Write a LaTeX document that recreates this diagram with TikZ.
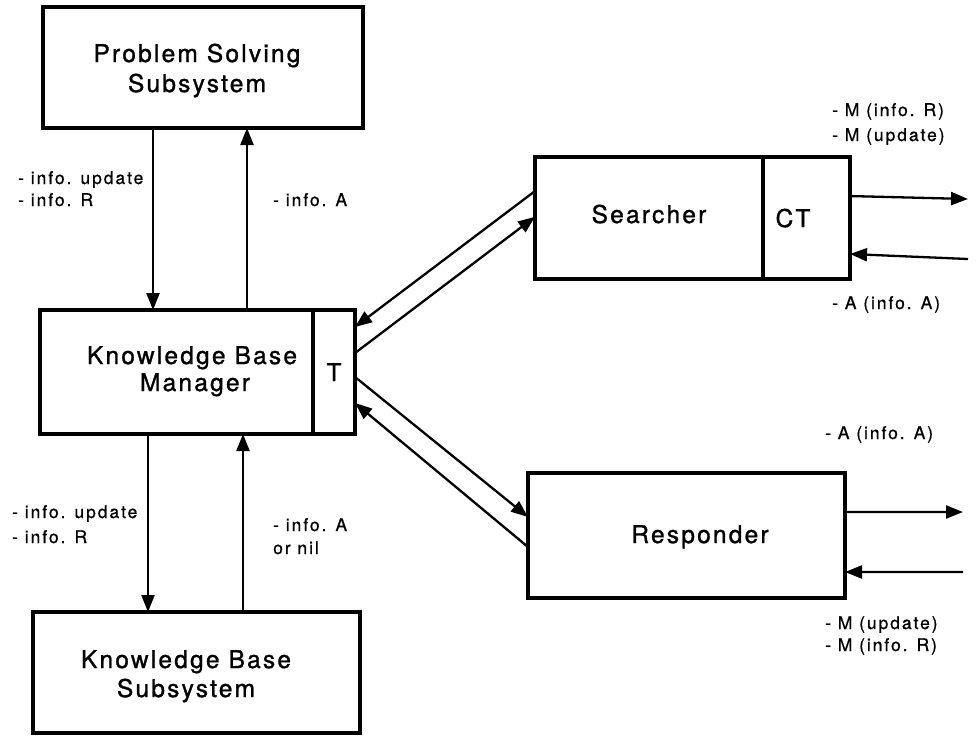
\documentclass[tikz,border=0pt]{standalone}
\usepackage{fontspec}
\setmainfont{TeX Gyre Heros}
\newfontfamily\boxfont{TeX Gyre Heros}[LetterSpace=9, FakeBold=1.2]
\newfontfamily\tagfont{TeX Gyre Heros}[LetterSpace=11, FakeBold=0.8]
\usetikzlibrary{arrows.meta,calc}

\tikzset{
  block/.style={draw, line width=3.5pt, inner sep=0pt, outer sep=0pt, anchor=center},
  boxtext/.style={font=\boxfont\fontsize{24.5}{29}\selectfont, inner sep=0pt, anchor=base},
  tag/.style={font=\tagfont\fontsize{17.5}{22}\selectfont, inner sep=0pt, anchor=base west},
  arr/.style={line width=2.3pt, -{Triangle[length=17pt,width=13pt]}},
}

\begin{document}
\begin{tikzpicture}[x=1pt, y=-1pt]
\useasboundingbox (0,0) rectangle (976,740);

% boxes
\node[block, minimum width=320pt, minimum height=121pt] (pss) at (203,67.5) {};
\node[block, minimum width=273pt, minimum height=124pt] (kbm) at (176.5,372) {};
\node[block, minimum width=42pt, minimum height=124pt] (t) at (334,372) {};
\node[block, minimum width=327pt, minimum height=121pt] (kbs) at (196.5,672.5) {};
\node[block, minimum width=228pt, minimum height=122pt] (srch) at (649,218) {};
\node[block, minimum width=87pt, minimum height=122pt] (ct) at (806.5,218) {};
\node[block, minimum width=317pt, minimum height=125pt] (resp) at (686.5,535.5) {};

% box texts
\node[boxtext] (pss1) at (197,62) {Problem Solving};
\node[boxtext] (pss2) at (197,92) {Subsystem};
\node[boxtext] (kbm1) at (192,364) {Knowledge Base};
\node[boxtext] (kbm2) at (195,391) {Manager};
\node[boxtext] (tt) at (334,381) {T};
\node[boxtext] (kbs1) at (186,668) {Knowledge Base};
\node[boxtext] (kbs2) at (186,697) {Subsystem};
\node[boxtext] (srcht) at (649,223) {Searcher};
\node[boxtext] (ctt) at (793,227) {CT};
\node[boxtext] (respt) at (700,543) {Responder};

% flow labels
\node[tag] (l1a) at (18,184) {- info. update};
\node[tag] (l1b) at (18,206) {- info. R};
\node[tag] (l2a) at (273,206) {- info. A};
\node[tag] (l3a) at (832,116) {- M (info. R)};
\node[tag] (l3b) at (832,141) {- M (update)};
\node[tag] (l4a) at (832,309) {- A (info. A)};
\node[tag] (l5a) at (825,439) {- A (info. A)};
\node[tag] (l6a) at (825,629) {- M (update)};
\node[tag] (l6b) at (825,651) {- M (info. R)};
\node[tag] (l7a) at (12,518) {- info. update};
\node[tag] (l7b) at (12,543) {- info. R};
\node[tag] (l8a) at (273,531) {- info. A};
\node[tag] (l8b) at (273,554) {or nil};

% guide coordinates for vertical connectors
\coordinate (v1) at (153,0);
\coordinate (v2) at (247,0);
\coordinate (v3) at (148,0);
\coordinate (v4) at (243,0);

\draw[arr] (pss.south -| v1) -- (kbm.north -| v1);
\draw[arr] (kbm.north -| v2) -- (pss.south -| v2);
\draw[arr] (kbm.south -| v3) -- (kbs.north -| v3);
\draw[arr] (kbs.north -| v4) -- (kbm.south -| v4);

% T to searcher / responder
\draw[arr] ($(srch.north west)!0.279!(srch.south west)$) -- ($(t.north east)!0.137!(t.south east)$);
\draw[arr] ($(t.north east)!0.347!(t.south east)$) -- ($(srch.north west)!0.49!(srch.south west)$);
\draw[arr] ($(t.north east)!0.54!(t.south east)$) -- ($(resp.north west)!0.352!(resp.south west)$);
\draw[arr] ($(resp.north west)!0.592!(resp.south west)$) -- ($(t.north east)!0.75!(t.south east)$);

% external message lines
\coordinate (so) at (968,199);
\coordinate (si) at (968,259);
\coordinate (ro) at (963,512);
\coordinate (ri) at (963,572);
\draw[arr] ($(ct.north east)!0.32!(ct.south east)$) -- (so);
\draw[arr] (si) -- ($(ct.north east)!0.795!(ct.south east)$);
\draw[arr] ($(resp.north east)!0.312!(resp.south east)$) -- (ro);
\draw[arr] (ri) -- ($(resp.north east)!0.792!(resp.south east)$);
\end{tikzpicture}
\end{document}
